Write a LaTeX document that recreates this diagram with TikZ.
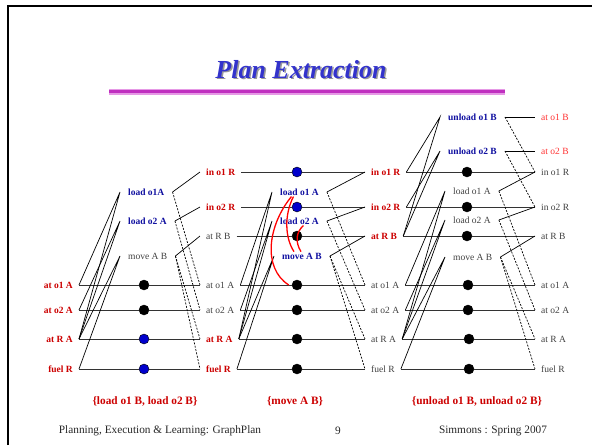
\documentclass[tikz,border=0pt]{standalone}
\usepackage{fontspec}
\setmainfont{Liberation Serif}
\usepackage{tikz}

\definecolor{labred}{HTML}{CC0000}
\definecolor{tgtred}{HTML}{FF3333}
\definecolor{labgray}{HTML}{404040}
\definecolor{actblue}{HTML}{1010A0}
\definecolor{dotblue}{HTML}{0000CC}
\definecolor{titleblue}{HTML}{3333CC}
\definecolor{barpink}{HTML}{E699E6}
\definecolor{barmag}{HTML}{C030C0}
\newcommand{\labfont}{\fontsize{9.5}{11}\selectfont}

\begin{document}
\begin{tikzpicture}[x=1pt, y=-1pt,
    lab/.style={inner xsep=6pt, inner ysep=1pt, font=\labfont, text=labgray},
    goal/.style={lab, text=labred, font=\labfont\bfseries},
    tgt/.style={lab, text=tgtred},
    act/.style={lab, inner xsep=8pt, anchor=west},
    pick/.style={act, text=actblue, font=\labfont\bfseries},
    noop/.style={circle, draw=black, fill=black, inner sep=0pt, minimum size=10pt},
    usednoop/.style={noop, fill=dotblue},
    pre/.style={draw=black, line width=0.7pt},
    del/.style={pre, dash pattern=on 2pt off 1.4pt},
    persist/.style={draw=black!80, line width=0.9pt},
    mutex/.style={draw=red, line width=1.3pt},
    plan/.style={text=labred, font=\fontsize{11.3}{13}\selectfont\bfseries},
    foot/.style={text=black!85, font=\fontsize{11.3}{13}\selectfont},
    heading/.style={anchor=base, font=\fontsize{26}{30}\selectfont\bfseries\itshape}
]
\useasboundingbox (0,0) rectangle (592,445);
\draw[line width=2.2pt] (8,445) -- (8,5.8) -- (592,5.8);

\node[heading, text=black!40] (titleshadow) at (302.5,79.5) {Plan Extraction};
\node[heading, text=titleblue] (title) at (301,78) {Plan Extraction};
\fill[barpink] (109,88.5) rectangle (505,95);
\fill[barmag] (109,90) rectangle (505,92.5);

\node[goal, anchor=east] (s0o1A) at (79,285) {at o1 A};
\node[goal, anchor=east] (s0o2A) at (79,310) {at o2 A};
\node[goal, anchor=east] (s0RA) at (79,339) {at R A};
\node[goal, anchor=east] (s0fuel) at (79,369) {fuel R};

\node[pick] (a1l1) at (120,192) {load o1A};
\node[pick] (a1l2) at (120,221) {load o2 A};
\node[act] (a1mv) at (120,256) {move A B};

\node[goal, anchor=west] (s1in1) at (200,172) {in o1 R};
\node[goal, anchor=west] (s1in2) at (200,207) {in o2 R};
\node[lab, anchor=west] (s1RB) at (200,236) {at R B};
\node[lab, anchor=west] (s1o1A) at (200,285) {at o1 A};
\node[lab, anchor=west] (s1o2A) at (200,310) {at o2 A};
\node[goal, anchor=west] (s1RA) at (200,339) {at R A};
\node[goal, anchor=west] (s1fuel) at (200,369) {fuel R};

\node[pick] (a2l1) at (272,192) {load o1 A};
\node[pick] (a2l2) at (272,221) {load o2 A};
\node[pick] (a2mv) at (274,256) {move A B};

\node[goal, anchor=west] (s2in1) at (365,172) {in o1 R};
\node[goal, anchor=west] (s2in2) at (365,207) {in o2 R};
\node[goal, anchor=west] (s2RB) at (365,236) {at R B};
\node[lab, anchor=west] (s2o1A) at (365,285) {at o1 A};
\node[lab, anchor=west] (s2o2A) at (365,310) {at o2 A};
\node[lab, anchor=west] (s2RA) at (365,339) {at R A};
\node[lab, anchor=west] (s2fuel) at (365,369) {fuel R};

\node[pick] (a3u1) at (440,117) {unload o1 B};
\node[pick] (a3u2) at (440,151) {unload o2 B};
\node[act] (a3l1) at (445,191) {load o1 A};
\node[act] (a3l2) at (445,220) {load o2 A};
\node[act] (a3mv) at (445,257) {move A B};

\node[tgt, anchor=west] (s3o1B) at (535,117) {at o1 B};
\node[tgt, anchor=west] (s3o2B) at (535,151) {at o2 B};
\node[lab, anchor=west] (s3in1) at (535,172) {in o1 R};
\node[lab, anchor=west] (s3in2) at (535,207) {in o2 R};
\node[lab, anchor=west] (s3RB) at (535,236) {at R B};
\node[lab, anchor=west] (s3o1A) at (535,285) {at o1 A};
\node[lab, anchor=west] (s3o2A) at (535,310) {at o2 A};
\node[lab, anchor=west] (s3RA) at (535,339) {at R A};
\node[lab, anchor=west] (s3fuel) at (535,369) {fuel R};

\node[noop] (n1o1A) at (144,285) {};
\node[noop] (n1o2A) at (144,310) {};
\node[usednoop] (n1RA) at (144,339) {};
\node[usednoop] (n1fuel) at (144,369) {};

\node[usednoop] (n2in1) at (297,172) {};
\node[usednoop] (n2in2) at (297,207) {};
\node[noop] (n2RB) at (297,236) {};
\node[noop] (n2o1A) at (297,285) {};
\node[noop] (n2o2A) at (297,310) {};
\node[noop] (n2RA) at (297,339) {};
\node[noop] (n2fuel) at (297,369) {};

\node[noop] (n3in1) at (467,172) {};
\node[noop] (n3in2) at (467,207) {};
\node[noop] (n3RB) at (467,236) {};
\node[noop] (n3o1A) at (468,285) {};
\node[noop] (n3o2A) at (468,310) {};
\node[noop] (n3RA) at (469,339) {};
\node[noop] (n3fuel) at (469,369) {};

\draw[persist] (s0o1A.east) -- (n1o1A) -- (s1o1A.west);
\draw[persist] (s0o2A.east) -- (n1o2A) -- (s1o2A.west);
\draw[persist] (s0RA.east) -- (n1RA) -- (s1RA.west);
\draw[persist] (s0fuel.east) -- (n1fuel) -- (s1fuel.west);

\draw[persist] (s1in1.east) -- (n2in1) -- (s2in1.west);
\draw[persist] (s1in2.east) -- (n2in2) -- (s2in2.west);
\draw[persist] (s1RB.east) -- (n2RB) -- (s2RB.west);
\draw[persist] (s1o1A.east) -- (n2o1A) -- (s2o1A.west);
\draw[persist] (s1o2A.east) -- (n2o2A) -- (s2o2A.west);
\draw[persist] (s1RA.east) -- (n2RA) -- (s2RA.west);
\draw[persist] (s1fuel.east) -- (n2fuel) -- (s2fuel.west);

\draw[persist] (s2in1.east) -- (n3in1) -- (s3in1.west);
\draw[persist] (s2in2.east) -- (n3in2) -- (s3in2.west);
\draw[persist] (s2RB.east) -- (n3RB) -- (s3RB.west);
\draw[persist] (s2o1A.east) -- (n3o1A) -- (s3o1A.west);
\draw[persist] (s2o2A.east) -- (n3o2A) -- (s3o2A.west);
\draw[persist] (s2RA.east) -- (n3RA) -- (s3RA.west);
\draw[persist] (s2fuel.east) -- (n3fuel) -- (s3fuel.west);

\draw[pre] (s0o1A.east) -- (a1l1.west) -- (s0RA.east);
\draw[pre] (s0o2A.east) -- (a1l2.west) -- (s0RA.east);
\draw[pre] (s0RA.east) -- (a1mv.west) -- (s0fuel.east);
\draw[pre] (a1l1.east) -- (s1in1.west);
\draw[pre] (a1l2.east) -- (s1in2.west);
\draw[pre] (a1mv.east) -- (s1RB.west);
\draw[del] (a1l1.east) -- (s1o1A.west);
\draw[del] (a1l2.east) -- (s1o2A.west);
\draw[del] (a1mv.east) -- (s1RA.west);
\draw[del] (a1mv.east) -- (s1fuel.west);

\draw[pre] (s1o1A.east) -- (a2l1.west) -- (s1RA.east);
\draw[pre] (s1o2A.east) -- (a2l2.west) -- (s1RA.east);
\draw[pre] (s1RA.east) -- (a2mv.west) -- (s1fuel.east);
\draw[pre] (a2l1.east) -- (s2in1.west);
\draw[pre] (a2l2.east) -- (s2in2.west);
\draw[pre] (a2mv.east) -- (s2RB.west);
\draw[del] (a2l1.east) -- (s2o1A.west);
\draw[del] (a2l2.east) -- (s2o2A.west);
\draw[del] (a2mv.east) -- (s2RA.west);
\draw[del] (a2mv.east) -- (s2fuel.west);

\draw[pre] (s2in1.east) -- (a3u1.west) -- (s2RB.east);
\draw[pre] (s2in2.east) -- (a3u2.west) -- (s2RB.east);
\draw[pre] (s2o1A.east) -- (a3l1.west) -- (s2RA.east);
\draw[pre] (s2o2A.east) -- (a3l2.west) -- (s2RA.east);
\draw[pre] (s2RA.east) -- (a3mv.west) -- (s2fuel.east);
\draw[pre] (a3u1.east) -- (s3o1B.west);
\draw[pre] (a3u2.east) -- (s3o2B.west);
\draw[pre] (a3l1.east) -- (s3in1.west);
\draw[pre] (a3l2.east) -- (s3in2.west);
\draw[pre] (a3mv.east) -- (s3RB.west);
\draw[del] (a3u1.east) -- (s3in1.west);
\draw[del] (a3u2.east) -- (s3in2.west);
\draw[del] (a3l1.east) -- (s3o1A.west);
\draw[del] (a3l2.east) -- (s3o2A.west);
\draw[del] (a3mv.east) -- (s3RA.west);
\draw[del] (a3mv.east) -- (s3fuel.west);

\draw[mutex] ([xshift=-8pt]a2l1.south) .. controls (268,225) and (262,268) .. ([xshift=-3pt]n2o1A.west);
\draw[mutex] ([xshift=-6pt]a2l1.south) .. controls (284,215) and (285,238) .. ([xshift=-8pt]a2mv.north);
\draw[mutex] ([xshift=4pt]a2l2.south) .. controls (296,232) and (295,242) .. ([xshift=-1pt]a2mv.north);

\node[plan] (plan1) at (145,401) {\{load o1 B, load o2 B\}};
\node[plan] (plan2) at (295,401) {\{move A B\}};
\node[plan] (plan3) at (477,401) {\{unload o1 B, unload o2 B\}};

\node[foot] (footl) at (160,431) {Planning, Execution \& Learning: GraphPlan};
\node[foot] (footc) at (338,431) {9};
\node[foot] (footr) at (493,431) {Simmons : Spring 2007};
\end{tikzpicture}
\end{document}
